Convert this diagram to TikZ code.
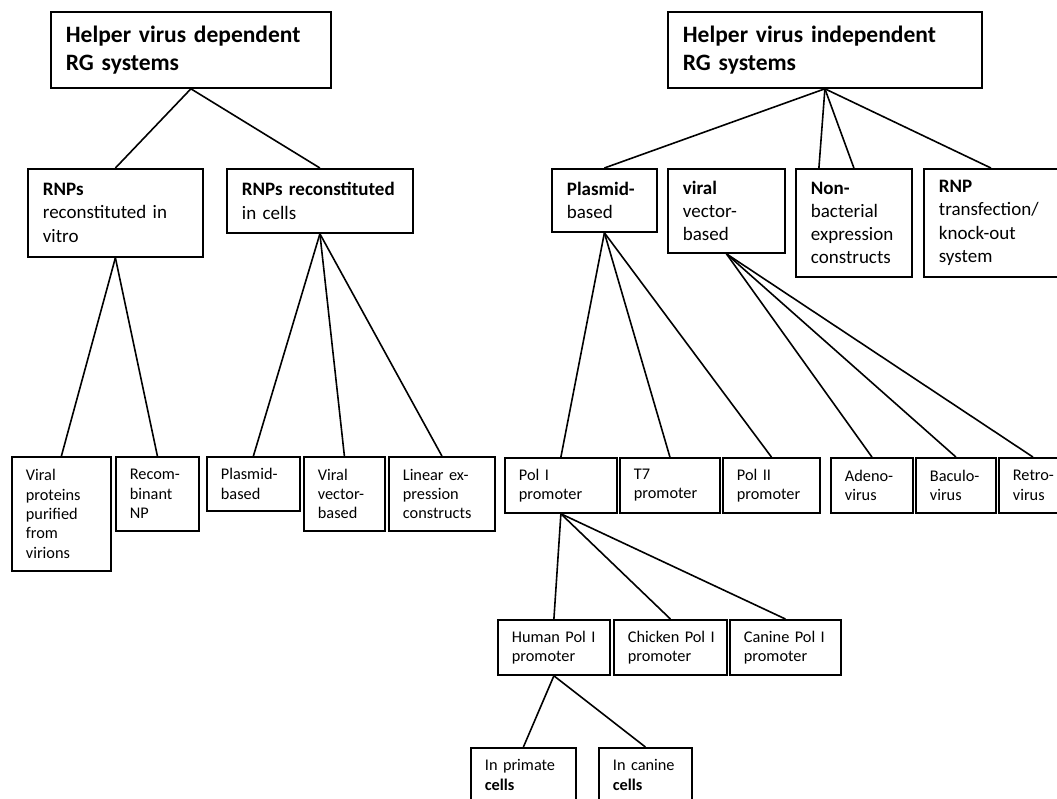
\documentclass[tikz,border=0pt]{standalone}
\usepackage{fontspec}
\setmainfont{Carlito}
\hyphenpenalty=10000
\exhyphenpenalty=10000
\tikzset{
  hbox/.style={draw, line width=1.8pt, anchor=north west, align=left, inner xsep=15pt, inner ysep=0pt, font=\fontsize{23.5}{28.5}\selectfont\bfseries},
  mbox/.style={draw, line width=1.8pt, anchor=north west, align=left, inner xsep=15pt, inner ysep=0pt, font=\fontsize{19}{23.3}\selectfont},
  lbox/.style={draw, line width=1.8pt, anchor=north west, align=left, inner xsep=14pt, inner ysep=0pt, font=\fontsize{16.3}{19.3}\selectfont},
  wh/.style 2 args={text width=#1pt, minimum height=#2pt},
  link/.style={line width=1.6pt}
}
\begin{document}
\begin{tikzpicture}[x=1pt,y=-1pt]
\useasboundingbox (0,0) rectangle (1057,798);
\clip (0,0) rectangle (1057,798);
\node[hbox,wh={250}{76}] (hvd) at (50,11) {Helper~virus~dependent\\RG~systems};
\node[hbox,wh={284}{76}] (hvi) at (667,11) {Helper~virus~independent\\RG~systems};
\node[mbox,wh={145}{88}] (invitro) at (27,168) {\textbf{RNPs}\\reconstituted~in\\vitro};
\node[mbox,wh={156}{64}] (incells) at (226,168) {\textbf{RNPs~reconstituted}\\in~cells};
\node[mbox,wh={75}{63}] (plasA) at (551,168) {\textbf{Plasmid-}\\based};
\node[mbox,wh={87}{84}] (vvb) at (667,168) {\textbf{viral}\\vector-\\based};
\node[mbox,wh={86}{108}] (nonbact) at (795,168) {\textbf{Non-}\\bacterial\\expression\\constructs};
\node[mbox,wh={122}{108}] (rnpt) at (923,168) {\textbf{RNP}\\transfection/\\knock-out\\system};
\node[lbox,wh={71}{114}] (vp) at (11,456) {Viral\\proteins\\purified\\from\\virions};
\node[lbox,wh={55}{74}] (rnpNP) at (115,456) {Recom-\\binant\\NP};
\node[lbox,wh={65}{54}] (plasL) at (206,456) {Plasmid-\\based};
\node[lbox,wh={53}{74}] (vvL) at (303,456) {Viral\\vector-\\based};
\node[lbox,wh={78}{74}] (lin) at (388,456) {Linear~ex-\\pression\\constructs};
\node[lbox,wh={84}{55}] (pol1) at (504,457) {Pol~I\\promoter};
\node[lbox,wh={72}{55}] (t7) at (619,457) {T7\\promoter};
\node[lbox,wh={69}{55}] (pol2) at (722,457) {Pol~II\\promoter};
\node[lbox,wh={54}{55}] (adeno) at (830,457) {Adeno-\\virus};
\node[lbox,wh={52}{55}] (baculo) at (915,457) {Baculo-\\virus};
\node[lbox,wh={40}{55}] (retro) at (998,457) {Retro-\\virus};
\node[lbox,wh={84}{55}] (human) at (497,619) {Human~Pol~I\\promoter};
\node[lbox,wh={85}{55}] (chicken) at (613,619) {Chicken~Pol~I\\promoter};
\node[lbox,wh={83}{55}] (canine) at (729,619) {Canine~Pol~I\\promoter};
\node[lbox,wh={77}{54}] (primate) at (470,747) {In~primate\\\textbf{cells}};
\node[lbox,wh={65}{54}] (caninec) at (598,747) {In~canine\\\textbf{cells}};
\draw[link] (hvd.south) -- (invitro.north);
\draw[link] (hvd.south) -- (incells.north);
\draw[link] (hvi.south) -- (plasA.north);
\draw[link] (hvi.south) -- ([xshift=-35pt]nonbact.north);
\draw[link] (hvi.south) -- (nonbact.north);
\draw[link] (hvi.south) -- ([xshift=-9pt]rnpt.north);
\draw[link] (invitro.south) -- (vp.north);
\draw[link] (invitro.south) -- (rnpNP.north);
\draw[link] (incells.south) -- (plasL.north);
\draw[link] (incells.south) -- (vvL.north);
\draw[link] (incells.south) -- (lin.north);
\draw[link] (plasA.south) -- (pol1.north);
\draw[link] (plasA.south) -- (t7.north);
\draw[link] (plasA.south) -- (pol2.north);
\draw[link] (vvb.south) -- (adeno.north);
\draw[link] (vvb.south) -- (baculo.north);
\draw[link] (vvb.south) -- (retro.north);
\draw[link] (pol1.south) -- (human.north);
\draw[link] (pol1.south) -- (chicken.north);
\draw[link] (pol1.south) -- (canine.north);
\draw[link] (human.south) -- (primate.north);
\draw[link] (human.south) -- (caninec.north);
\end{tikzpicture}
\end{document}
